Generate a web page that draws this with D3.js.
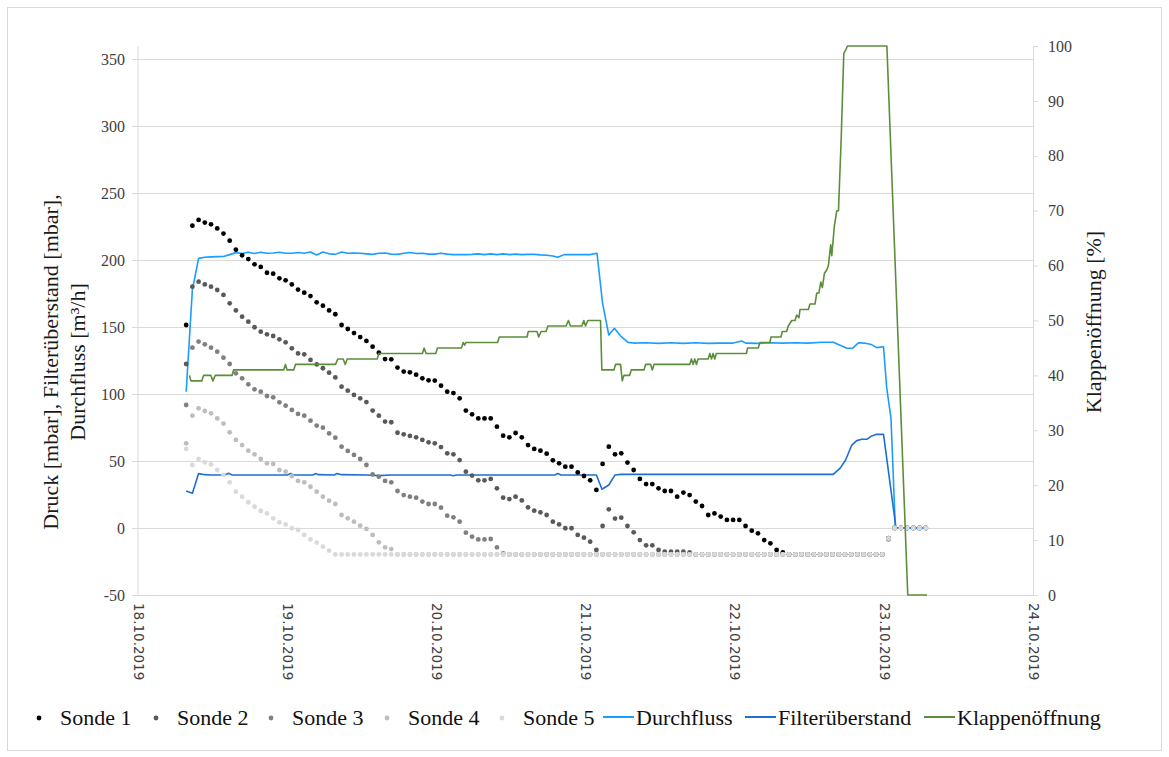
<!DOCTYPE html>
<html><head><meta charset="utf-8">
<script src="https://cdn.jsdelivr.net/npm/d3@7"></script>
<style>body{margin:0;background:#fff}</style>
</head><body>
<svg id="chart" width="1169" height="757"></svg>
<script>
// ---------- DATA ----------
const startTime = new Date(2019, 9, 18, 7, 45); // first hourly sample
const xTickLabels = ["18.10.2019","19.10.2019","20.10.2019","21.10.2019","22.10.2019","23.10.2019","24.10.2019"];
const leftTicks = [-50, 0, 50, 100, 150, 200, 250, 300, 350];
const rightTicks = [0, 10, 20, 30, 40, 50, 60, 70, 80, 90, 100];
const seriesNames = ["Sonde 1","Sonde 2","Sonde 3","Sonde 4","Sonde 5","Durchfluss","Filterüberstand","Klappenöffnung"];

// hourly probe pressures [mbar]
const sonde1 = [
151.5,225.6,229.9,227.9,226.6,223.6,219.7,214.4,207.7,203.5,
200.7,196.8,194.8,190.5,189.8,186.3,184.8,181.8,177.9,175.6,
173.1,168.4,165.9,162.4,159.5,151.5,148.5,145.5,142.5,139.6,
135.3,130.8,126.1,125.9,119.7,116.7,116.2,114.4,111.7,110.2,
110.0,106.2,101.7,100.7,96.8,87.6,84.8,81.8,81.8,81.8,
75.6,68.9,67.7,70.9,67.7,61.9,59.0,57.7,55.5,50.5,
48.3,45.8,45.8,41.5,38.8,35.6,28.4,47.8,60.7,55.0,
55.7,48.8,43.3,36.6,32.8,32.8,29.6,27.6,27.6,23.4,
26.4,24.6,19.7,16.4,9.7,10.9,8.5,6.0,6.0,6.0,
1.5,-2.0,-4.0,-9.0,-11.4,-16.4,-18.2,-19.7,-19.7,-19.7,
-19.7,-19.7,-19.7,-19.7,-19.7,-19.7,-19.7,-19.7,-19.7,-19.7,
-19.7,-19.7,-19.7,-7.5,0,0,0,0,0,0];
const sonde2 = [
122.4,180.1,183.8,181.8,180.1,177.6,173.9,167.7,162.4,157.7,
154.0,149.8,146.5,144.5,143.3,140.8,138.6,134.1,130.3,129.6,
125.4,122.1,119.2,115.9,112.4,105.5,102.5,99.3,96.8,94.0,
87.6,83.8,79.4,78.9,71.1,69.9,68.7,67.7,65.7,63.9,
63.2,60.4,55.7,55.0,50.7,42.0,39.1,35.6,35.6,36.6,
29.6,22.6,21.6,23.4,20.6,15.4,12.9,11.7,9.7,4.7,
2.7,-0.2,-0.2,-5.2,-7.2,-10.2,-16.4,1.5,13.9,7.0,
7.7,1.5,-3.2,-9.0,-12.9,-12.9,-16.4,-17.7,-17.7,-17.7,
-17.7,-18.2,-19.7,-19.7,-19.7,-19.7,-19.7,-19.7,-19.7,-19.7,
-19.7,-19.7,-19.7,-19.7,-19.7,-19.7,-19.7,-19.7,-19.7,-19.7,
-19.7,-19.7,-19.7,-19.7,-19.7,-19.7,-19.7,-19.7,-19.7,-19.7,
-19.7,-19.7,-19.7,-8.0,0,0,0,0,0,0];
const sonde3 = [
91.8,134.6,139.1,137.1,134.6,131.6,127.1,122.4,115.4,111.7,
107.2,103.5,101.7,98.5,97.5,93.8,91.3,88.1,85.1,83.8,
80.1,76.4,74.9,70.6,67.4,60.7,57.5,54.5,51.5,47.0,
40.0,38.3,35.1,34.1,27.6,24.6,23.4,22.6,19.7,17.9,
17.9,15.2,9.2,8.0,4.7,-3.5,-6.5,-8.5,-8.5,-8.2,
-14.4,-18.9,-19.7,-19.7,-19.7,-19.7,-19.7,-19.7,-19.7,-19.7,
-19.7,-19.7,-19.7,-19.7,-19.7,-19.7,-19.7,-19.7,-19.7,-19.7,
-19.7,-19.7,-19.7,-19.7,-19.7,-19.7,-19.7,-19.7,-19.7,-19.7,
-19.7,-19.7,-19.7,-19.7,-19.7,-19.7,-19.7,-19.7,-19.7,-19.7,
-19.7,-19.7,-19.7,-19.7,-19.7,-19.7,-19.7,-19.7,-19.7,-19.7,
-19.7,-19.7,-19.7,-19.7,-19.7,-19.7,-19.7,-19.7,-19.7,-19.7,
-19.7,-19.7,-19.7,-8.5,0,0,0,0,0,0];
const sonde4 = [
63.2,83.8,89.3,87.3,85.6,81.8,77.9,71.4,65.7,61.9,
57.7,55.0,51.5,48.3,47.8,43.3,42.0,38.8,35.1,34.1,
30.8,27.1,23.4,20.4,17.9,9.7,7.2,4.7,1.7,-0.7,
-5.2,-10.7,-14.4,-15.7,-19.7,-19.7,-19.7,-19.7,-19.7,-19.7,
-19.7,-19.7,-19.7,-19.7,-19.7,-19.7,-19.7,-19.7,-19.7,-19.7,
-19.7,-19.7,-19.7,-19.7,-19.7,-19.7,-19.7,-19.7,-19.7,-19.7,
-19.7,-19.7,-19.7,-19.7,-19.7,-19.7,-19.7,-19.7,-19.7,-19.7,
-19.7,-19.7,-19.7,-19.7,-19.7,-19.7,-19.7,-19.7,-19.7,-19.7,
-19.7,-19.7,-19.7,-19.7,-19.7,-19.7,-19.7,-19.7,-19.7,-19.7,
-19.7,-19.7,-19.7,-19.7,-19.7,-19.7,-19.7,-19.7,-19.7,-19.7,
-19.7,-19.7,-19.7,-19.7,-19.7,-19.7,-19.7,-19.7,-19.7,-19.7,
-19.7,-19.7,-19.7,-8.0,0,0,0,0,0,0];
const sonde5 = [
59.0,47.0,51.5,49.0,47.5,43.3,39.6,34.1,27.1,23.4,
19.2,15.9,12.7,10.9,7.2,4.2,2.7,-0.2,-1.5,-5.2,
-8.5,-10.9,-13.9,-16.9,-19.7,-19.7,-19.7,-19.7,-19.7,-19.7,
-19.7,-19.7,-19.7,-19.7,-19.7,-19.7,-19.7,-19.7,-19.7,-19.7,
-19.7,-19.7,-19.7,-19.7,-19.7,-19.7,-19.7,-19.7,-19.7,-19.7,
-19.7,-19.7,-19.7,-19.7,-19.7,-19.7,-19.7,-19.7,-19.7,-19.7,
-19.7,-19.7,-19.7,-19.7,-19.7,-19.7,-19.7,-19.7,-19.7,-19.7,
-19.7,-19.7,-19.7,-19.7,-19.7,-19.7,-19.7,-19.7,-19.7,-19.7,
-19.7,-19.7,-19.7,-19.7,-19.7,-19.7,-19.7,-19.7,-19.7,-19.7,
-19.7,-19.7,-19.7,-19.7,-19.7,-19.7,-19.7,-19.7,-19.7,-19.7,
-19.7,-19.7,-19.7,-19.7,-19.7,-19.7,-19.7,-19.7,-19.7,-19.7,
-19.7,-19.7,-19.7,-7.7,0,0,0,0,0,0];

// [hours after start, value]
const durchfluss = [
[0,101.7],[1,178],[2,201.2],[3,202],[4,202.3],[5,202.5],[6,202.6],[7,204],[8,205.5],[9,204.8],
[10,205.8],[11,204.8],[12,205.8],[13,205],[14,205.2],[15,205.8],[16,205],[17,205],[18,205.6],[19,205],
[20,206],[21,203.8],[22,206],[23,204.6],[24,204.2],[25,206],[26,205],[27,205.2],[28,205],[29,204.6],
[30,204.2],[31,205],[32,205.2],[33,204.4],[34,204.2],[35,205],[36,205.6],[37,204.8],[38,205],[39,204.4],
[40,204.4],[41,205],[42,204.4],[43,204],[44,204],[45,204],[46,204.2],[47,204.6],[48,204],[49,204.6],
[50,204],[51,204.6],[52,204],[53,204.4],[54,204],[55,204.2],[56,204.2],[57,203.8],[58,203.6],[59,203],
[59.8,202],[60.8,204],[62,204],[63,204],[64,204],[65,204],[66.1,205],[67,167.7],[68,144],[68.9,149],
[70,142.8],[71.1,138.5],[72,138],[74,138.3],[76,137.8],[78,138.2],[80,137.8],[82,138.2],[84,137.8],[86,138],
[88,138],[89.4,139.5],[90,138],[92,137.8],[94,138.2],[96,138],[98,138.2],[100,138],[102.3,138.6],[104.1,138.6],
[106.3,134.1],[107.2,134.1],[108.2,138.3],[109.1,138],[110.2,137],[111.1,134.6],[112.2,135.3],[112.7,105],[113.4,82],[114.1,0.3],
[115,0],[116,0],[117,0],[118,0],[119,0]];
const filterueberstand = [
[0,27.7],[1,25.9],[2,40.6],[3,39.8],[4,39.6],[5,39.6],[6.2,39.6],[6.8,40.8],[7.4,39.6],[10,39.6],
[16.3,39.6],[16.8,40.6],[17.3,39.6],[20.4,39.6],[20.8,40.6],[21.3,39.8],[23.8,39.6],[24.3,40.6],[25,39.8],[29,39.6],
[31,39.1],[33,39.6],[42.5,39.6],[43,39],[43.5,39.6],[59.3,39.6],[59.8,40.6],[60.3,39.6],[66,39.6],[66.9,28.9],
[68,32.1],[69,39.6],[70,40],[104.1,40],[105.2,44.5],[106.1,50.7],[107.1,61.9],[107.9,65.2],[108.7,66.2],[109.5,66.2],
[110.3,68.7],[111.1,69.9],[112.2,69.9],[114.2,0.3],[115,0],[116,0],[117,0],[118,0],[119,0]];
const klappenoeffnung = [
[0.54,40],[0.75,39],[2.52,39],[2.8,40],[3.98,40],[4.3,39],[4.68,40],[7.37,40],[7.63,41],[15.7,41],
[15.97,42],[16.24,41],[17.31,41],[17.58,42],[24.03,42],[24.41,43],[25.27,43],[25.59,42],[25.91,43],[30.75,43],
[30.97,44],[38.01,44],[38.28,45],[38.6,44],[40.16,44],[40.43,45],[44.3,45],[44.57,46],[44.8,45.5],[45.0,46],
[50.11,46],[50.38,47],[54.84,47],[55.05,48],[56.45,48],[56.72,47],[57.1,48],[57.9,48],[58.2,49],[61.13,49],
[61.5,50],[61.83,49],[63.66,49],[63.98,50],[64.25,49],[64.62,50],[66.67,50],[66.88,41],[68.82,41],[69.09,42],
[69.89,42],[70.16,39],[70.43,40],[71.34,40],[71.61,41],[73.66,41],[73.92,42],[74.73,42],[75.0,41],[75.27,42],
[81.02,42],[81.29,43],[81.56,42],[81.83,43],[82.1,42],[82.36,43],[83.98,43],[84.25,44],[84.52,43],[84.78,44],
[85.05,43],[85.3,44],[90.16,44],[90.32,45],[92.04,45],[92.31,46],[93.92,46],[94.09,47],[95.7,47],[95.91,48],
[96.61,48],[96.88,49],[97.42,50],[97.96,50],[98.23,51],[98.6,50.5],[98.76,52],[100.1,52],[100.37,53],[101.18,53],
[101.45,55],[101.8,55],[102.1,57],[102.36,56],[102.69,58.6],[103.06,59.2],[103.33,60],[103.7,63.8],[103.87,61.8],[104.3,67.3],
[104.68,70],[104.95,70],[105.38,82.8],[105.81,98.7],[106.0,99],[106.4,100],[112.74,100],[116.1,0],[119.2,0]];

// ---------- STYLE ----------
const sondeColors = ["#000000","#595959","#808080","#bdbdbd","#d9d9d9"];
const lineColors = {durchfluss:"#1a9dff", filter:"#1d6fd3", klappe:"#5b8e3a"};
const serif = "'Liberation Serif','Times New Roman',serif";

const svg = d3.select("#chart");
const P = {left:138, right:1033, top:46, bottom:595};

svg.append("rect").attr("x",7.5).attr("y",7.5).attr("width",1154).attr("height",743)
  .attr("fill","#fff").attr("stroke","#d9d9d9").attr("stroke-width",1);

const parseLabel = s => { const [d,m,y] = s.split(".").map(Number); return new Date(y, m-1, d); };
const xTickDates = xTickLabels.map(parseLabel);
const x = d3.scaleTime().domain([xTickDates[0], xTickDates[xTickDates.length-1]]).range([P.left, P.right]);
const yL = d3.scaleLinear().domain([-50, 350]).range([P.bottom, 59]);
const yR = d3.scaleLinear().domain([0, 100]).range([P.bottom, P.top]);
const tAt = h => new Date(startTime.getTime() + h * 3600e3);
const plain = d => String(d);

// left axis with gridlines
const gL = svg.append("g").attr("transform", `translate(${P.left},0)`)
  .call(d3.axisLeft(yL).tickValues(leftTicks).tickFormat(plain).tickSizeInner(-(P.right-P.left)).tickSizeOuter(0).tickPadding(13));
gL.select(".domain").remove();
gL.selectAll(".tick line").attr("stroke","#d9d9d9").attr("x1",-6);
gL.selectAll(".tick text").attr("font-family",serif).attr("font-size",16).attr("fill","#404040");
svg.append("line").attr("x1",P.left).attr("x2",P.left).attr("y1",P.top).attr("y2",P.bottom).attr("stroke","#d9d9d9");

// right axis
const gR = svg.append("g").attr("transform", `translate(${P.right},0)`)
  .call(d3.axisRight(yR).tickValues(rightTicks).tickFormat(plain).tickSizeInner(5).tickSizeOuter(0).tickPadding(10));
gR.select(".domain").attr("stroke","#d9d9d9");
gR.selectAll(".tick line").attr("stroke","#d9d9d9");
gR.selectAll(".tick text").attr("font-family",serif).attr("font-size",16).attr("fill","#404040");

// bottom axis
const gB = svg.append("g").attr("transform", `translate(0,${P.bottom})`)
  .call(d3.axisBottom(x).tickValues(xTickDates).tickFormat((d,i)=>xTickLabels[i]).tickSize(0).tickPadding(8));
gB.select(".domain").attr("stroke","#d9d9d9");
gB.selectAll(".tick text").attr("transform","rotate(90)").attr("x",8).attr("y",0).attr("dy","0.35em")
  .attr("text-anchor","start").attr("font-family","'DejaVu Sans',sans-serif").attr("font-size",13.5).attr("fill","#404040");

// lines (primary)
const lineL = d3.line().x(d=>x(tAt(d[0]))).y(d=>yL(d[1]));
const lineR = d3.line().x(d=>x(tAt(d[0]))).y(d=>yR(d[1]));
svg.append("path").datum(durchfluss).attr("d",lineL).attr("fill","none").attr("stroke",lineColors.durchfluss).attr("stroke-width",1.6).attr("stroke-linejoin","round");
svg.append("path").datum(filterueberstand).attr("d",lineL).attr("fill","none").attr("stroke",lineColors.filter).attr("stroke-width",1.6).attr("stroke-linejoin","round");

// probe dots
[sonde1, sonde2, sonde3, sonde4, sonde5].forEach((arr, k) => {
  svg.append("g").selectAll("circle").data(arr).join("circle")
    .attr("cx",(v,i)=>x(tAt(i))).attr("cy",v=>yL(v)).attr("r",2.4).attr("fill",sondeColors[k]);
});

// secondary line
svg.append("path").datum(klappenoeffnung).attr("d",lineR).attr("fill","none").attr("stroke",lineColors.klappe).attr("stroke-width",1.6).attr("stroke-linejoin","round");

// axis titles
svg.append("text").attr("transform","translate(58,362) rotate(-90)").attr("text-anchor","middle")
  .attr("font-family",serif).attr("font-size",22).attr("fill","#1a1a1a").text("Druck [mbar], Filterüberstand [mbar],");
svg.append("text").attr("transform","translate(85,362) rotate(-90)").attr("text-anchor","middle")
  .attr("font-family",serif).attr("font-size",22).attr("fill","#1a1a1a").text("Durchfluss [m³/h]");
svg.append("text").attr("transform","translate(1101,322) rotate(-90)").attr("text-anchor","middle")
  .attr("font-family",serif).attr("font-size",22).attr("fill","#1a1a1a").text("Klappenöffnung  [%]");

// legend
const legY = 718;
const dotX = [39, 156, 271, 387, 502];
const lg = svg.append("g");
dotX.forEach((dx, k) => {
  lg.append("circle").attr("cx",dx).attr("cy",legY).attr("r",2.4).attr("fill",sondeColors[k]);
  lg.append("text").attr("x",dx+21).attr("y",legY+7).attr("font-family",serif).attr("font-size",22).attr("fill","#111").text(seriesNames[k]);
});
const lineLeg = [[603, lineColors.durchfluss, 5],[745, lineColors.filter, 6],[924, lineColors.klappe, 7]];
lineLeg.forEach(([lx, c, k]) => {
  lg.append("line").attr("x1",lx).attr("x2",lx+31).attr("y1",legY-1).attr("y2",legY-1).attr("stroke",c).attr("stroke-width",2);
  lg.append("text").attr("x",lx+33).attr("y",legY+7).attr("font-family",serif).attr("font-size",22).attr("fill","#111").text(seriesNames[k]);
});
</script>
</body></html>
